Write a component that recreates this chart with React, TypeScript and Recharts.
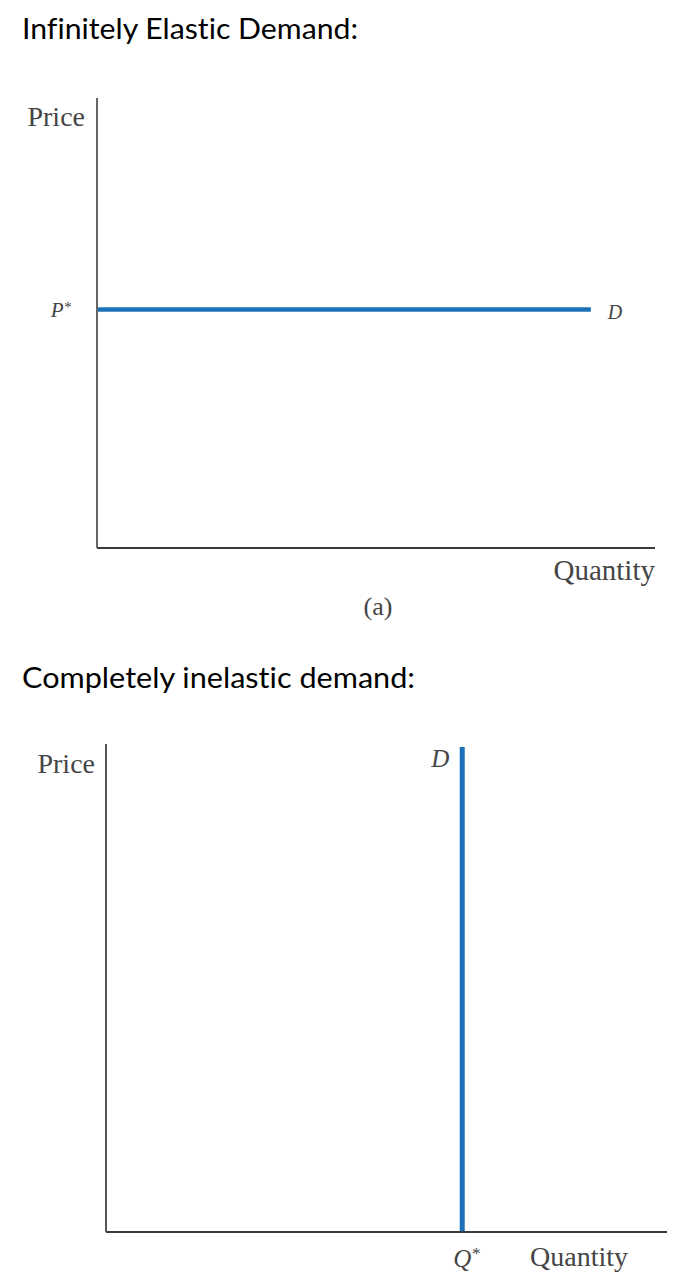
import React from "react";
import { LineChart, Line, XAxis, YAxis, Label, LabelList } from "recharts";

// ---- data ----
const titles = ["Infinitely Elastic Demand:", "Completely inelastic demand:"];
const axisLabels = { price: "Price", quantity: "Quantity", panel: "(a)" };
const curveLabel = "D";

// Panel (a): infinitely elastic demand (horizontal at P*)
const elasticPStar = 5.3;
const elasticQuantities = [0, 8.85];
const elasticPrices = [5.3, 5.3];
const elasticData = elasticQuantities.map((q, i) => ({ q, p: elasticPrices[i] }));

// Panel (b): completely inelastic demand (vertical at Q*)
const inelasticQStar = 6.35;
const inelasticQuantities = [6.35, 6.35];
const inelasticPrices = [0, 9.94];
const inelasticData = inelasticQuantities.map((q, i) => ({ q, p: inelasticPrices[i] }));

const BLUE = "#1c70b8";
const TEXT = "#454545";
const SERIF = "'Liberation Serif', 'DejaVu Serif', serif";

const starTickY = (props: any) => {
  const { x, y } = props;
  return (
    <text x={x - 24} y={y + 7} textAnchor="end" fill={TEXT} fontFamily={SERIF} fontStyle="italic" fontSize={21}>
      P<tspan fontSize={15} dy={-5}>*</tspan>
    </text>
  );
};

const starTickX = (props: any) => {
  const { x, y } = props;
  return (
    <text x={x - 9} y={y + 33} textAnchor="start" fill={TEXT} fontFamily={SERIF} fontStyle="italic" fontSize={25}>
      Q<tspan fontSize={17} dy={-8}>*</tspan>
    </text>
  );
};

const titleStyle: React.CSSProperties = { fontVariantLigatures: "none", fontFeatureSettings: "'liga' 0, 'clig' 0" };

export default function App() {
  return (
    <div style={{ position: "absolute", left: 0, top: 0, width: 676, height: 1287, background: "#fff" }}>
      <svg width={676} height={1287} style={{ position: "absolute", left: 0, top: 0 }}>
        <text x={22} y={39} style={titleStyle} fontFamily="Lato, 'Open Sans', sans-serif" fontSize={29} fill="#000" textLength={336} lengthAdjust="spacingAndGlyphs">
          {titles[0]}
        </text>
        <text x={22} y={688} style={titleStyle} fontFamily="Lato, 'Open Sans', sans-serif" fontSize={29} fill="#000" textLength={393} lengthAdjust="spacingAndGlyphs">
          {titles[1]}
        </text>
      </svg>

      {/* Panel (a) */}
      <div style={{ position: "absolute", left: 0, top: 0 }}>
        <LineChart width={676} height={640} data={elasticData} margin={{ top: 98, right: 21, bottom: 12, left: 0 }}>
          <XAxis
            type="number"
            dataKey="q"
            domain={[0, 10]}
            height={80}
            tick={false}
            tickLine={false}
            axisLine={{ stroke: "#3a3a3a", strokeWidth: 2 }}
          >
            <Label
              content={(p: any) => {
                const vb = p.viewBox;
                return (
                  <text x={vb.x + vb.width} y={vb.y + 32} textAnchor="end" fill={TEXT} fontFamily={SERIF} fontSize={29}>
                    {axisLabels.quantity}
                  </text>
                );
              }}
            />
            <Label
              content={(p: any) => {
                const vb = p.viewBox;
                return (
                  <text x={vb.x + vb.width / 2 + 2} y={vb.y + 67} textAnchor="middle" fill={TEXT} fontFamily={SERIF} fontSize={26}>
                    {axisLabels.panel}
                  </text>
                );
              }}
            />
          </XAxis>
          <YAxis
            type="number"
            dataKey="p"
            domain={[0, 10]}
            width={97}
            ticks={[elasticPStar]}
            tick={starTickY}
            tickSize={0}
            tickLine={false}
            axisLine={{ stroke: "#666", strokeWidth: 2 }}
          >
            <Label
              content={(p: any) => {
                const vb = p.viewBox;
                return (
                  <text x={vb.x + vb.width - 12} y={vb.y + 28} textAnchor="end" fill={TEXT} fontFamily={SERIF} fontSize={28}>
                    {axisLabels.price}
                  </text>
                );
              }}
            />
          </YAxis>
          <Line
            dataKey="p"
            stroke={BLUE}
            strokeWidth={4.5}
            dot={false}
            isAnimationActive={false}
          >
            <LabelList
              dataKey="p"
              content={(p: any) =>
                p.index === elasticData.length - 1 ? (
                  <text x={p.x + 17} y={p.y + 9} fill={TEXT} fontFamily={SERIF} fontStyle="italic" fontSize={20}>
                    {curveLabel}
                  </text>
                ) : null
              }
            />
          </Line>
        </LineChart>
      </div>

      {/* Panel (b) */}
      <div style={{ position: "absolute", left: 0, top: 640 }}>
        <LineChart width={676} height={647} data={inelasticData} margin={{ top: 104, right: 9, bottom: 10, left: 0 }}>
          <XAxis
            type="number"
            dataKey="q"
            domain={[0, 10]}
            height={45}
            ticks={[inelasticQStar]}
            tick={starTickX}
            tickSize={0}
            tickLine={false}
            axisLine={{ stroke: "#3a3a3a", strokeWidth: 2 }}
          >
            <Label
              content={(p: any) => {
                const vb = p.viewBox;
                return (
                  <text x={vb.x + vb.width - 39} y={vb.y + 34} textAnchor="end" fill={TEXT} fontFamily={SERIF} fontSize={28}>
                    {axisLabels.quantity}
                  </text>
                );
              }}
            />
          </XAxis>
          <YAxis
            type="number"
            dataKey="p"
            domain={[0, 10]}
            width={106}
            tick={false}
            tickLine={false}
            axisLine={{ stroke: "#555", strokeWidth: 2 }}
          >
            <Label
              content={(p: any) => {
                const vb = p.viewBox;
                return (
                  <text x={vb.x + vb.width - 11} y={vb.y + 29} textAnchor="end" fill={TEXT} fontFamily={SERIF} fontSize={28}>
                    {axisLabels.price}
                  </text>
                );
              }}
            />
          </YAxis>
          <Line
            dataKey="p"
            stroke={BLUE}
            strokeWidth={5}
            dot={false}
            isAnimationActive={false}
          >
            <LabelList
              dataKey="p"
              content={(p: any) =>
                p.index === inelasticData.length - 1 ? (
                  <text x={p.x - 13} y={p.y + 20} textAnchor="end" fill={TEXT} fontFamily={SERIF} fontStyle="italic" fontSize={25}>
                    {curveLabel}
                  </text>
                ) : null
              }
            />
          </Line>
        </LineChart>
      </div>
    </div>
  );
}
